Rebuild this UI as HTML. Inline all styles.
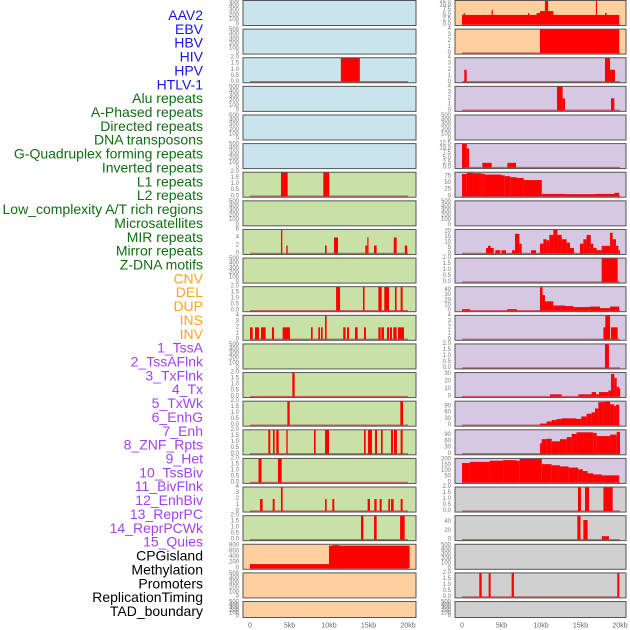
<!DOCTYPE html>
<html><head><meta charset="utf-8"><style>
html,body{margin:0;padding:0;background:#fff;}
svg{display:block;font-family:"Liberation Sans",sans-serif;}
</style></head><body>
<svg id="chart" width="630" height="630" viewBox="0 0 630 630"></svg>
<script>
// ---- labels ----
const labelTexts = ["AAV2","EBV","HBV","HIV","HPV","HTLV-1","Alu repeats","A-Phased repeats","Directed repeats","DNA transposons","G-Quadruplex forming repeats","Inverted repeats","L1 repeats","L2 repeats","Low_complexity A/T rich regions","Microsatellites","MIR repeats","Mirror repeats","Z-DNA motifs","CNV","DEL","DUP","INS","INV","1_TssA","2_TssAFlnk","3_TxFlnk","4_Tx","5_TxWk","6_EnhG","7_Enh","8_ZNF_Rpts","9_Het","10_TssBiv","11_BivFlnk","12_EnhBiv","13_ReprPC","14_ReprPCWk","15_Quies","CPGisland","Methylation","Promoters","ReplicationTiming","TAD_boundary"];
const labelGroups = [0,0,0,0,0,0,1,1,1,1,1,1,1,1,1,1,1,1,1,2,2,2,2,2,3,3,3,3,3,3,3,3,3,3,3,3,3,3,3,4,4,4,4,4];
// ---- x axis ----
const xTickValues = [0,5,10,15,20];
const xTickLabels = ["0","5kb","10kb","15kb","20kb"];
// ---- series: [start_kb, end_kb, value] ----
const r0R = [[0,19.9,5],[0.2,0.35,6],[3.75,3.9,7.5],[8.35,8.5,6],[9.45,9.87,6],[9.87,11.56,7],[10.5,10.9,12.5],[16.95,17.1,12.5],[18.1,18.3,6]];
const r1R = [[9.87,19.9,4]];
const r2L = [[11.5,13.9,2]];
const r2R = [[0.29,0.59,2],[18.1,18.74,4],[18.74,19.37,2]];
const r3R = [[12.03,12.74,4],[12.74,13.04,2],[18.86,19.28,2]];
const r5R = [[0,0.6,12.5],[0.6,0.9,10],[2.57,3.75,2.5],[5.74,6.84,2.5]];
const r6L = [[3.92,4.77,2],[9.28,10.04,2]];
const r6R = [[0,0.6,85],[0.6,1.4,90],[1.4,2.5,88],[2.5,2.9,86],[2.9,5,83],[5,5.4,80],[5.4,6.1,77],[6.1,6.9,73],[6.9,7.8,70],[7.8,10.1,62],[10.1,13,9],[13,17,8],[17,19.3,9],[19.3,19.9,13]];
const r8L = [[3.92,4.09,6],[4.6,4.77,2],[9.5,9.7,2],[10.63,11.14,4],[14.6,14.85,2],[14.85,15,4],[15.7,16.03,2],[18.2,18.56,4],[19.6,19.9,2]];
const r8R = [[3.04,4.01,5],[3.29,3.63,7],[4.22,4.85,3],[5.0,5.57,3],[6.33,6.71,3],[6.71,7.26,18],[7.26,7.55,9],[8.73,9.37,3],[9.87,10.3,9],[10.3,10.72,13],[10.72,11.05,12],[11.05,11.56,17],[11.56,12.07,22],[12.07,12.62,17],[12.62,13.25,13],[13.25,13.67,10],[13.67,14.18,5],[14.93,15.36,9],[15.36,15.78,13],[15.78,16.29,17],[16.29,16.62,9],[16.62,17.05,5],[17.05,17.68,3],[17.68,18.74,7],[18.74,19.07,19],[19.07,19.49,13],[19.49,19.79,7],[19.79,20,3]];
const r9R = [[17.68,19.7,2]];
const r10L = [[10.9,11.4,2],[14.3,14.5,2],[16.25,16.67,2],[17,17.6,2],[18.35,18.56,2],[19.07,19.32,2]];
const r10R = [[0,1.0,3],[5.74,6.92,3],[9.87,10.2,45],[10.2,10.5,30],[10.5,11.56,18],[11.56,13.04,10],[13.04,14.1,9],[14.1,16.2,7],[16.2,17.47,8],[17.47,18.74,5],[18.74,19.9,8]];
const r11L = [[0,0.34,2],[0.63,1.14,2],[1.39,1.98,2],[2.78,3.04,2],[4.13,5.06,2],[7.72,7.93,2],[8.65,8.86,2],[8.99,9.2,2],[9.5,9.7,4],[11.8,12.1,2],[12.28,12.53,2],[13.29,13.63,2],[14.43,14.68,2],[16.25,16.54,2],[16.62,16.96,2],[17.34,17.6,2],[17.72,17.97,2],[18.14,18.56,2],[18.73,19.49,2]];
const r11R = [[17.9,18.3,2],[18.14,18.74,4],[18.86,19.7,2]];
const r12R = [[18.1,18.6,2]];
const r13L = [[5.36,5.65,2]];
const r13R = [[11.14,12.62,3],[14.72,16.41,3],[16.41,16.96,6],[16.96,17.34,3],[17.34,18.52,6],[18.52,18.86,8],[18.86,19.28,30],[19.28,19.58,25],[19.58,19.87,13],[19.87,20,11]];
const r14L = [[4.73,5.02,2],[19.03,19.37,2]];
const r14R = [[9.87,10.72,8],[10.72,11.35,18],[11.35,11.98,25],[11.98,12.6,30],[12.6,14.5,33],[14.5,15.1,30],[15.1,15.78,42],[15.78,16.41,55],[16.41,16.83,62],[16.83,17.26,80],[17.26,17.9,110],[17.9,18.74,112],[18.74,19.28,100],[19.28,19.5,92],[19.5,19.9,98]];
const r15L = [[2.32,2.57,2],[2.91,3.12,2],[3.33,3.63,2],[4.6,4.77,2],[8.1,8.31,2],[9.5,10,2],[14.43,14.64,2],[14.93,15.44,2],[15.82,16.08,2],[16.58,16.79,2],[17.85,18.1,2],[18.23,18.6,2],[19.07,19.32,2]];
const r15R = [[9.87,10.08,50],[10.08,10.72,70],[10.72,11.35,72],[11.35,12.4,60],[12.4,13.25,70],[13.25,13.88,80],[13.88,14.5,95],[14.5,16.62,103],[16.62,17.05,100],[17.05,18.74,85],[18.74,19.58,92],[19.58,20,105]];
const r16L = [[1.08,1.46,2],[3.54,4.01,2]];
const r16R = [[0,1.0,170],[1.0,3.5,180],[3.5,5.2,190],[5.2,6.9,195],[6.9,7.3,190],[7.3,10.1,205],[10.1,11.35,160],[11.35,12.4,150],[12.4,13.5,140],[13.5,14.7,130],[14.7,15.3,115],[15.3,15.9,100],[15.9,16.6,80],[16.6,17.7,70],[17.7,19.9,62]];
const r17L = [[1.27,1.6,2],[2.87,3.12,2],[3.92,4.13,4],[9.5,9.7,2],[10.42,10.67,2],[14.89,15.19,2],[15.74,16.03,2],[16.41,16.67,2],[17.51,17.72,2],[17.85,18.18,2],[19.07,19.32,2]];
const r17R = [[14.68,15.06,2],[15.57,16.08,2],[17.9,19.07,2]];
const r18L = [[14.05,14.35,2],[15.7,16.03,2],[19,19.58,2]];
const r18R = [[14.6,15.0,55],[15.36,15.9,45],[17.7,18.6,8]];
const r19L = [[0,10,150],[10,20.2,800],[10.4,11.3,820]];
const r20R = [[2.19,2.49,2],[3.37,3.62,2],[6.28,6.57,2],[19.66,19.91,2]];
// ---- axis configs per row: [data, ymax, tickStep, decimals] ----
const E = null;
const leftRows = [[E],[E],[r2L,2,0.5,1],[E],[E],[E],[r6L,2,0.5,1],[E],[r8L,6,2,0],[E],[r10L,2,0.5,1],[r11L,4,1,0],[E],[r13L,2,0.5,1],[r14L,2,0.5,1],[r15L,2,0.5,1],[r16L,2,0.5,1],[r17L,4,1,0],[r18L,2,0.5,1],[r19L,850,200,0],[E],[E]];
const rightRows = [[r0R,12.5,2.5,1],[r1R,4,1,0],[r2R,4,1,0],[r3R,4,1,0],[E],[r5R,12.5,2.5,1],[r6R,92,25,0],[E],[r8R,22,5,0],[r9R,2,0.5,1],[r10R,46,10,0],[r11R,4,1,0],[r12R,2,0.5,1],[r13R,32,10,0],[r14R,115,30,0],[r15R,115,30,0],[r16R,210,50,0],[r17R,2,0.5,1],[r18R,55,20,0],[E],[r20R,2,0.5,1],[E]];
const leftBg = ["#c9e4ec","#c9e4ec","#c9e4ec","#c9e4ec","#c9e4ec","#c9e4ec","#c8e1a7","#c8e1a7","#c8e1a7","#c8e1a7","#c8e1a7","#c8e1a7","#c8e1a7","#c8e1a7","#c8e1a7","#c8e1a7","#c8e1a7","#c8e1a7","#c8e1a7","#ffd09f","#ffd09f","#ffd09f"];
const rightBg = ["#ffd09f","#ffd09f","#d6c7e2","#d6c7e2","#d6c7e2","#d6c7e2","#d6c7e2","#d6c7e2","#d6c7e2","#d6c7e2","#d6c7e2","#d6c7e2","#d6c7e2","#d6c7e2","#d6c7e2","#d6c7e2","#d6c7e2","#d0d0d0","#d0d0d0","#d0d0d0","#d0d0d0","#d0d0d0"];

const NS = "http://www.w3.org/2000/svg";
const svg = document.getElementById("chart");
function mk(tag, attrs, parent) {
  const e = document.createElementNS(NS, tag);
  for (const k in attrs) e.setAttribute(k, attrs[k]);
  (parent || svg).appendChild(e);
  return e;
}
const groupColors = ["#1515ee","#106e10","#ffa41b","#a341f0","#000000"];
labelTexts.forEach((t, i) => {
  const el = mk("text", {x: 203, y: 15 + i * 13.86, "text-anchor": "end", "dominant-baseline": "central", "font-size": 14, fill: groupColors[labelGroups[i]]});
  el.textContent = t;
  
  
});

const cols = [{x0: 243, x1: 416, zero: 250, rows: leftRows, bg: leftBg, tickX: 239},
              {x0: 455, x1: 626, zero: 462, rows: rightRows, bg: rightBg, tickX: 451}];
const pxPerKb = 7.9;
function rowTop(i) { return 0.5 + i * 28.62; }
function rowH(i) { return i === 21 ? 16 : 25; }

cols.forEach((c, ci) => {
  const xs = kb => c.zero + kb * pxPerKb;
  c.rows.forEach((row, ri) => {
    const T = rowTop(ri), H = rowH(ri);
    const g = mk("g", {});
    
    
    const bg = mk("rect", {x: c.x0, y: T, width: c.x1 - c.x0, height: H, fill: c.bg[ri]}, g);
    
    
    const data = row[0];
    const ymax = data ? row[1] : 500, step = data ? row[2] : 100, dec = data ? row[3] : 0;
    const ys = v => data ? T + H * (ymax - v) / (1.04 * ymax) : T + H - 1 - (H - 2) * v / ymax;
    // ticks
    for (let v = 0; v <= ymax + 1e-9; v += step) {
      const tl = mk("text", {x: c.tickX, y: ys(v), "text-anchor": "end", "dominant-baseline": "central", "font-size": 6, fill: "#777"}, g);
      tl.textContent = v.toFixed(dec);
      
      
    }
    if (data) {
      const base = mk("line", {x1: xs(0), x2: xs(20), y1: ys(0), y2: ys(0), stroke: "#c0303a", "stroke-opacity": 0.7, "stroke-width": 1.5}, g);
      
      
      data.forEach(d => {
        const x1 = xs(d[0]), x2 = xs(d[1]);
        const b = mk("rect", {x: x1, y: ys(d[2]), width: Math.max(1.2, x2 - x1), height: ys(0) - ys(d[2]), fill: "#ff0000"}, g);
        
        
      });
    }
    const fr = mk("rect", {x: c.x0, y: T, width: c.x1 - c.x0, height: H, fill: "none", stroke: "#555", "stroke-width": 1}, g);
    
    
  });
  xTickValues.forEach((v, i) => {
    const t = mk("text", {x: xs(v), y: 626, "text-anchor": "middle", "dominant-baseline": "central", "font-size": 7, fill: "#666"});
    t.textContent = xTickLabels[i];
    
    
  });
});
</script>
</body></html>
